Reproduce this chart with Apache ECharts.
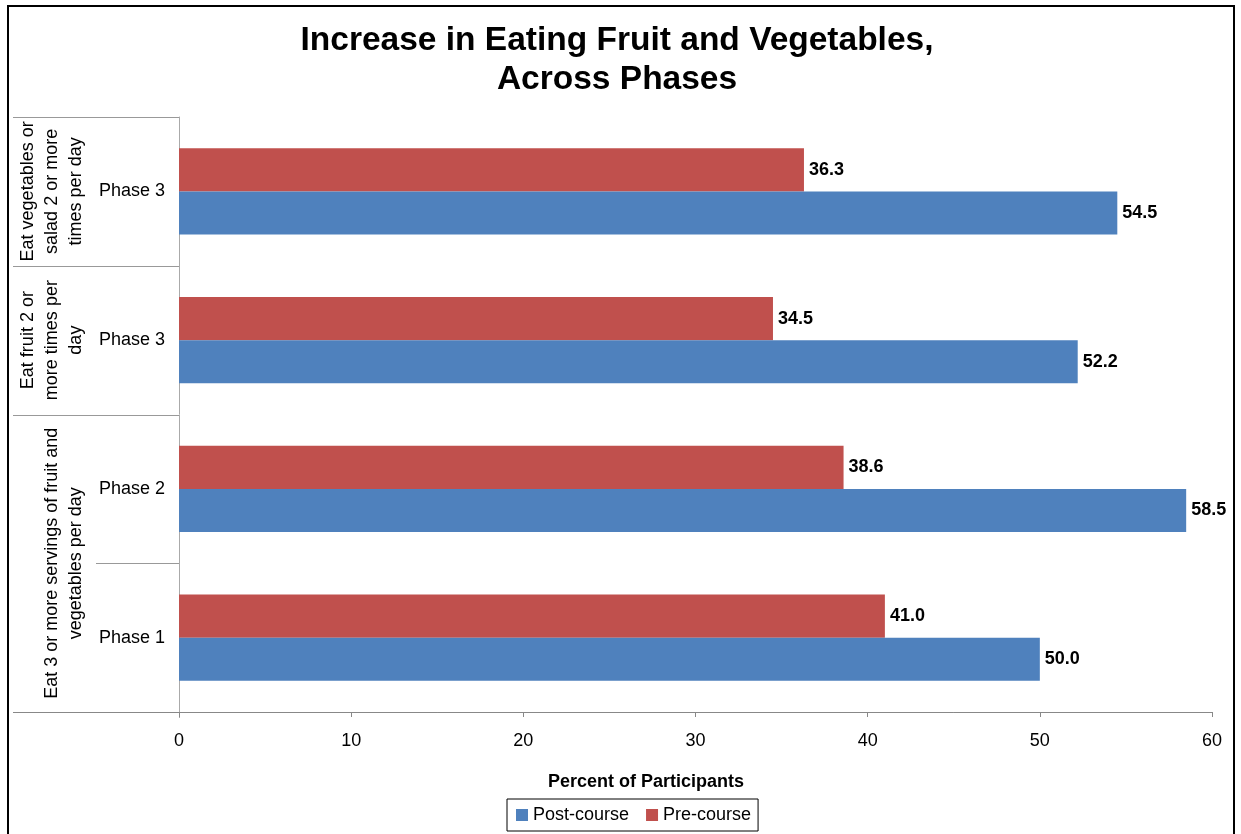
<!DOCTYPE html>
<html><head><meta charset="utf-8">
<script src="https://cdn.jsdelivr.net/npm/echarts@6/dist/echarts.min.js"></script>
<style>html,body{margin:0;padding:0;background:#fff}#c{width:1241px;height:834px}</style>
</head><body><div id="c"></div>
<script>
var categories = ['Phase 1', 'Phase 2', 'Phase 3', 'Phase 3'];
var postCourse = [50.0, 58.5, 52.2, 54.5];
var preCourse = [41.0, 38.6, 34.5, 36.3];
var groups = [
  {text: 'Eat 3 or more servings of fruit and\nvegetables per day', from: 0, to: 1},
  {text: 'Eat fruit 2 or\nmore times per\nday', from: 2, to: 2},
  {text: 'Eat vegetables or\nsalad 2 or more\ntimes per day', from: 3, to: 3}
];
var xTicks = [0, 10, 20, 30, 40, 50, 60];

var FONT = '"Liberation Sans", Arial, sans-serif';
var chart = echarts.init(document.getElementById('c'), null, {renderer: 'canvas'});
var labelCfg = {show: true, position: 'right', distance: 5, color: '#000', fontFamily: FONT, fontSize: 18, fontWeight: 'bold',
  formatter: function (p) { return p.value.toFixed(1); }};
chart.setOption({
  animation: false,
  backgroundColor: '#fff',
  title: [
    {text: 'Increase in Eating Fruit and Vegetables,\nAcross Phases', left: 612, top: 16, textAlign: 'center',
     textStyle: {fontFamily: FONT, fontSize: 33.5, fontWeight: 'bold', color: '#000', lineHeight: 39}},
    {text: 'Percent of Participants', left: 641, top: 768, textAlign: 'center',
     textStyle: {fontFamily: FONT, fontSize: 18, fontWeight: 'bold', color: '#000'}}
  ],
  legend: {
    data: ['Post-course', 'Pre-course'], left: 507, top: 799, orient: 'horizontal',
    borderColor: '#000', borderWidth: 1, padding: [7, 7, 7, 9], itemGap: 17,
    itemWidth: 12, itemHeight: 12, icon: 'rect',
    textStyle: {fontFamily: FONT, fontSize: 18, color: '#000', padding: [0, 0, 0, 0]}
  },
  grid: {left: 179, right: 29, top: 117, bottom: 122, containLabel: false},
  xAxis: {
    type: 'value', min: 0, max: 60, interval: 10,
    axisLine: {show: true, lineStyle: {color: '#888', width: 1}},
    axisTick: {show: true, length: 5, lineStyle: {color: '#888'}},
    axisLabel: {color: '#000', fontFamily: FONT, fontSize: 18, margin: 20,
      formatter: function (v) { return xTicks.indexOf(v) >= 0 ? String(v) : ''; }},
    splitLine: {show: false}
  },
  yAxis: {
    type: 'category', data: categories,
    axisLine: {show: true, lineStyle: {color: '#aaa', width: 1}},
    axisTick: {show: false},
    axisLabel: {color: '#000', fontFamily: FONT, fontSize: 18, margin: 14}
  },
  series: [
    {name: 'Pre-course', type: 'bar', data: preCourse, itemStyle: {color: '#C0504D'},
     barGap: '0%', barCategoryGap: '42%', label: labelCfg},
    {name: 'Post-course', type: 'bar', data: postCourse, itemStyle: {color: '#4F81BD'},
     barGap: '0%', barCategoryGap: '42%', label: labelCfg}
  ]
});

function drawExtras() {
  var n = categories.length;
  var band = Math.abs(chart.convertToPixel({yAxisIndex: 0}, 0) - chart.convertToPixel({yAxisIndex: 0}, 1));
  var xAxis0 = chart.convertToPixel({xAxisIndex: 0}, 0);
  function boundary(i) { return chart.convertToPixel({yAxisIndex: 0}, i) + band / 2; }
  var els = [];
  var outerLeft = 13, innerLeft = 96;
  var groupStarts = {};
  groups.forEach(function (g) { groupStarts[g.from] = true; });
  for (var i = 0; i <= n; i++) {
    var y = (i < n) ? boundary(i) : boundary(n - 1) - band;
    var isGroup = (i === n) || groupStarts[i] || i === 0;
    var x1 = isGroup ? outerLeft : innerLeft;
    els.push({type: 'line', silent: true, shape: {x1: x1, y1: Math.round(y) + 0.5, x2: xAxis0, y2: Math.round(y) + 0.5},
      style: {stroke: i === 0 ? '#888' : '#999', lineWidth: 1}});
  }
  els.push({type: 'line', silent: true, shape: {x1: xAxis0 + 0.5, y1: boundary(0), x2: xAxis0 + 0.5, y2: boundary(0) + 6},
    style: {stroke: '#aaa', lineWidth: 1}});
  groups.forEach(function (g) {
    var yc = (chart.convertToPixel({yAxisIndex: 0}, g.from) + chart.convertToPixel({yAxisIndex: 0}, g.to)) / 2;
    els.push({type: 'text', silent: true, x: 88, y: yc, rotation: Math.PI / 2,
      style: {text: g.text, fontFamily: FONT, fontSize: 18, lineHeight: 24, fill: '#000', align: 'center', verticalAlign: 'bottom'}});
  });
  els.push({type: 'rect', silent: true, shape: {x: 8, y: 6, width: 1226, height: 840},
    style: {fill: 'none', stroke: '#000', lineWidth: 2}});
  chart.setOption({graphic: {elements: els}});
}
drawExtras();
</script></body></html>
